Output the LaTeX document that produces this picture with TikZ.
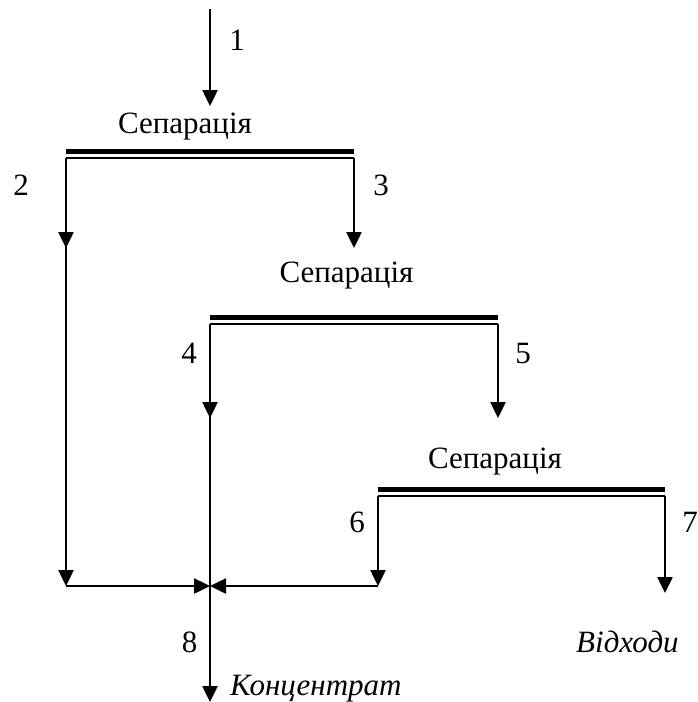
\documentclass[tikz,border=0pt]{standalone}
\usepackage{fontspec}
\setmainfont{Liberation Serif}
\usetikzlibrary{arrows.meta}

\tikzset{
  flow/.style={line width=2.5pt, -{Triangle[length=16pt,width=15pt]}},
  pipe/.style={line width=2.5pt},
  thickbar/.style={line width=5.5pt},
  thinbar/.style={line width=2.2pt},
  txt/.style={inner sep=0pt, anchor=base, font=\fontsize{31}{31}\selectfont},
  itxt/.style={txt, font=\fontsize{31}{31}\selectfont\itshape},
}

\begin{document}
\begin{tikzpicture}[x=1pt, y=-1pt]
  \useasboundingbox (0,0) rectangle (698,702);

  % separation stages: title, heavy bar and splitter line
  \node[txt] (sep1) at (185,133) {Сепарація};
  \node[txt] (sep2) at (346.5,282) {Сепарація};
  \node[txt] (sep3) at (495,468) {Сепарація};

  \coordinate (a1) at (66,158);  \coordinate (b1) at (354,158);
  \coordinate (a2) at (210,324); \coordinate (b2) at (498,324);
  \coordinate (a3) at (378,496); \coordinate (b3) at (665,496);

  \draw[thickbar] ([yshift=6.5pt]a1) -- ([yshift=6.5pt]b1);
  \draw[thinbar]  (a1) -- (b1);
  \draw[thickbar] ([yshift=6.5pt]a2) -- ([yshift=6.5pt]b2);
  \draw[thinbar]  (a2) -- (b2);
  \draw[thickbar] ([yshift=6.5pt]a3) -- ([yshift=6.5pt]b3);
  \draw[thinbar]  (a3) -- (b3);

  % feed
  \coordinate (feed) at (210,9);
  \coordinate (feedend) at (210,106);
  \draw[flow] (feed) -- (feedend);

  % intermediate points of the flows
  \coordinate (p2) at (66,248);
  \coordinate (p3) at (354,248);
  \coordinate (p4) at (210,418);
  \coordinate (p5) at (498,418);
  \coordinate (m2) at (66,586);
  \coordinate (m6) at (378,586);
  \coordinate (mix) at (210,586);
  \coordinate (p7) at (665,593);
  \coordinate (out) at (210,702);

  % stream 2
  \draw[flow] (a1) -- (p2);
  \draw[flow] (a1) -- (m2);
  \draw[flow] (m2) -- (mix);
  % stream 3
  \draw[flow] (b1) -- (p3);
  % stream 4 and product 8
  \draw[flow] (a2) -- (p4);
  \draw[flow] (a2) -- (out);
  % stream 5
  \draw[flow] (b2) -- (p5);
  % stream 6
  \draw[flow] (a3) -- (m6);
  \draw[flow] (m6) -- (mix);
  % stream 7
  \draw[flow] (b3) -- (p7);

  % stream numbers
  \node[txt] (n1) at (237,50) {1};
  \node[txt] (n2) at (21,195) {2};
  \node[txt] (n3) at (381,195) {3};
  \node[txt] (n4) at (189,363) {4};
  \node[txt] (n5) at (523,363) {5};
  \node[txt] (n6) at (357,532) {6};
  \node[txt] (n7) at (690,532) {7};
  \node[txt] (n8) at (189.5,652) {8};

  % products
  \node[itxt, anchor=base west] (conc) at (230,695) {Концентрат};
  \node[itxt, anchor=base west] (waste) at (576,652) {Відходи};
\end{tikzpicture}
\end{document}
